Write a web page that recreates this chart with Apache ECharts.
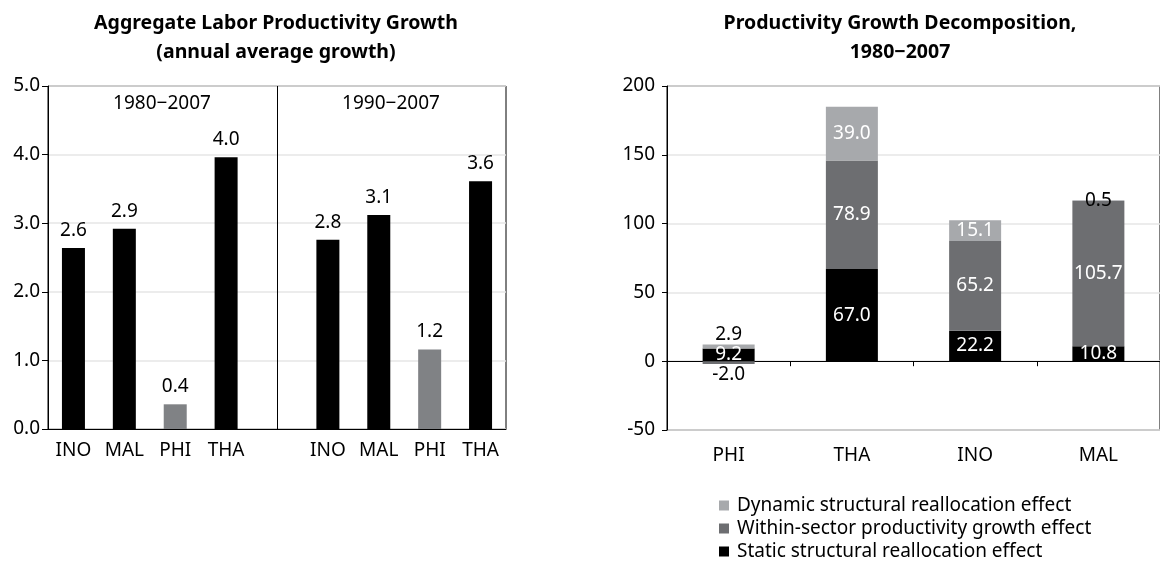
<!DOCTYPE html>
<html>
<head>
<meta charset="utf-8">
<script src="https://cdn.jsdelivr.net/npm/echarts@6/dist/echarts.min.js"></script>
<style>
  html, body { margin: 0; padding: 0; background: #fff; }
  #chart { width: 1160px; height: 564px; }
</style>
</head>
<body>
<div id="chart"></div>
<script>
  // left panel: aggregate labor productivity growth (two periods, blank slot between)
  var growthCats = ['INO', 'MAL', 'PHI', 'THA', '', 'INO', 'MAL', 'PHI', 'THA']
  var growthVals = [2.64, 2.92, 0.36, 3.96, '-', 2.76, 3.12, 1.16, 3.61]
  var periodLabels = ['1980\u22122007', '1990\u22122007']

  // right panel: decomposition 1980-2007
  var decompCats = ['PHI', 'THA', 'INO', 'MAL']
  var staticEffect = [9.2, 67.0, 22.2, 10.8]
  var withinEffect = [-2.0, 78.9, 65.2, 105.7]
  var dynamicEffect = [2.9, 39.0, 15.1, 0.5]
  var seriesNames = [
    'Static structural reallocation effect',
    'Within-sector productivity growth effect',
    'Dynamic structural reallocation effect'
  ]

  var FONT = 'Noto Sans'
  var ec = echarts.init(document.getElementById('chart'))

  function seg(vals, color, name, special) {
    return {
      name: name,
      type: 'bar',
      stack: 'd',
      xAxisIndex: 1,
      yAxisIndex: 1,
      barWidth: 52,
      itemStyle: { color: color },
      data: vals.map(function (v, i) {
        var item = { value: v }
        if (special && special[i]) item.label = special[i]
        return item
      }),
      label: {
        show: true,
        position: 'inside',
        color: '#fff',
        fontFamily: FONT,
        fontSize: 19,
        formatter: function (p) { return p.value.toFixed(1) }
      }
    }
  }

  function heading(text, x, y, bold) {
    return {
      type: 'text', x: x, y: y,
      style: {
        text: text, align: 'center', verticalAlign: 'middle', fill: '#000',
        fontFamily: FONT, fontSize: bold ? 19.5 : 19, fontWeight: bold ? 'bold' : 'normal'
      }
    }
  }

  var axisText = { color: '#000', fontFamily: FONT, fontSize: 19 }

  ec.setOption({
    animation: false,
    textStyle: { fontFamily: FONT },
    graphic: [
      heading('Aggregate Labor Productivity Growth', 276, 23, true),
      heading('(annual average growth)', 276, 52, true),
      heading('Productivity Growth Decomposition,', 900, 23, true),
      heading('1980\u22122007', 900, 52, true),
      heading(periodLabels[0], 162, 104, false),
      heading(periodLabels[1], 391, 104, false)
    ],
    legend: {
      orient: 'vertical',
      left: 719,
      top: 494,
      height: 70,
      padding: 0,
      itemWidth: 10,
      itemHeight: 10,
      itemGap: 0,
      icon: 'rect',
      data: [seriesNames[2], seriesNames[1], seriesNames[0]],
      textStyle: { color: '#000', fontFamily: FONT, fontSize: 19, lineHeight: 23, padding: [0, 0, 0, 3] }
    },
    grid: [
      { left: 48, top: 86, width: 458, height: 343, show: true, borderColor: '#000', borderWidth: 1 },
      { left: 667, top: 86, width: 508, height: 344, show: true, borderColor: '#000', borderWidth: 1 }
    ],
    xAxis: [
      {
        gridIndex: 0,
        type: 'category',
        data: growthCats,
        axisLine: { lineStyle: { color: '#000' } },
        axisTick: { show: false },
        axisLabel: Object.assign({ margin: 12, interval: 0 }, axisText)
      },
      {
        gridIndex: 1,
        type: 'category',
        data: decompCats,
        position: 'bottom',
        axisLine: { show: false, onZero: false },
        axisTick: { show: false },
        axisLabel: Object.assign({ margin: 16 }, axisText)
      },
      {
        gridIndex: 1,
        type: 'category',
        data: decompCats,
        position: 'top',
        axisLine: { show: true, onZero: true, lineStyle: { color: '#000' } },
        axisTick: { show: true, inside: true, length: 5, lineStyle: { color: '#000' } },
        axisLabel: { show: false }
      }
    ],
    yAxis: [
      {
        gridIndex: 0,
        type: 'value',
        min: 0,
        max: 5,
        interval: 1,
        axisLine: { show: true, lineStyle: { color: '#000' } },
        axisTick: { show: true, length: 6, lineStyle: { color: '#000' } },
        axisLabel: Object.assign({ margin: 8, formatter: function (v) { return v.toFixed(1) } }, axisText),
        splitLine: { lineStyle: { color: '#e6e6e6', width: 1.5 } }
      },
      {
        gridIndex: 1,
        type: 'value',
        min: -50,
        max: 200,
        interval: 50,
        axisLine: { show: true, lineStyle: { color: '#000' } },
        axisTick: { show: true, length: 5, lineStyle: { color: '#000' } },
        axisLabel: Object.assign({ margin: 12 }, axisText),
        splitLine: { lineStyle: { color: '#e6e6e6', width: 1.5 } }
      }
    ],
    series: [
      {
        type: 'bar',
        xAxisIndex: 0,
        yAxisIndex: 0,
        barWidth: 23,
        data: growthVals.map(function (v, i) {
          return { value: v, itemStyle: { color: growthCats[i] === 'PHI' ? '#808285' : '#000' } }
        }),
        label: {
          show: true,
          position: 'top',
          distance: 8,
          color: '#000',
          fontFamily: FONT,
          fontSize: 19,
          formatter: function (p) { return p.value.toFixed(1) }
        },
        markLine: {
          silent: true,
          symbol: 'none',
          label: { show: false },
          lineStyle: { color: '#000', type: 'solid', width: 1 },
          data: [{ xAxis: 4 }]
        }
      },
      seg(staticEffect, '#000000', seriesNames[0]),
      seg(withinEffect, '#6d6e71', seriesNames[1], [{ position: 'bottom', distance: 1, color: '#000' }]),
      seg(dynamicEffect, '#a7a9ac', seriesNames[2], [{ position: 'top', distance: 0, color: '#000' }, null, null, { position: 'inside', color: '#000' }])
    ]
  })
</script>
</body>
</html>
